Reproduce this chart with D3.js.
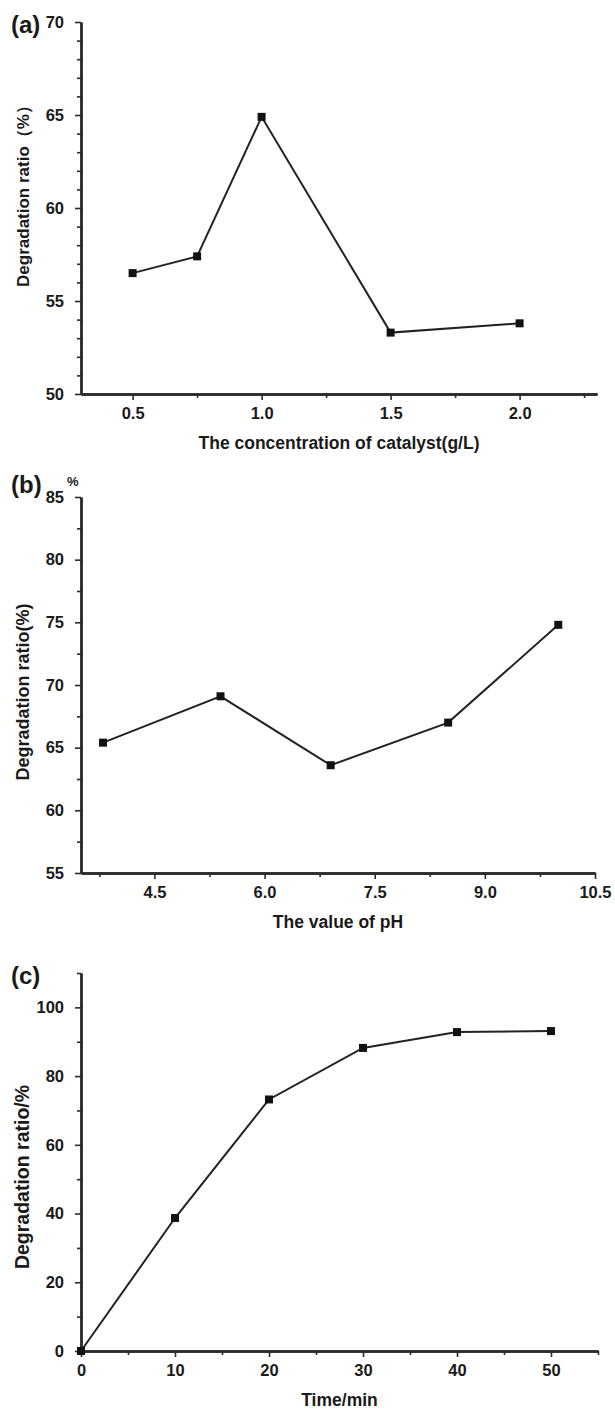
<!DOCTYPE html>
<html lang="en">

<head>
    <meta charset="UTF-8">
    <title>Degradation ratio panels</title>
    <script src="https://d3js.org/d3.v7.min.js"></script>
    <style>
        body { margin: 0; background: #fff; }
        text { font-family: "Liberation Sans", Arial, sans-serif; font-weight: bold; fill: #1a1a1a; }
    </style>
</head>

<body>
    <svg width="615" height="1411"></svg>
    <script>
        // panel (a) - catalyst concentration
        const catalystConc = [0.5, 0.75, 1.0, 1.5, 2.0]
        const catalystRatio = [56.5, 57.4, 64.9, 53.3, 53.8]
        const catalystXTicks = [0.5, 1.0, 1.5, 2.0]
        const catalystXMinor = [0.75, 1.25, 1.75, 2.25]
        const catalystYTicks = [50, 55, 60, 65, 70]

        // panel (b) - pH
        const phValues = [3.8, 5.4, 6.9, 8.5, 10.0]
        const phRatio = [65.4, 69.1, 63.6, 67.0, 74.8]
        const phXTicks = [4.5, 6.0, 7.5, 9.0, 10.5]
        const phXMinor = [3.75, 5.25, 6.75, 8.25, 9.75]
        const phYTicks = [55, 60, 65, 70, 75, 80, 85]

        // panel (c) - time
        const timeMin = [0, 10, 20, 30, 40, 50]
        const timeRatio = [0, 38.7, 73.2, 88.2, 92.8, 93.1]
        const timeXTicks = [0, 10, 20, 30, 40, 50]
        const timeXMinor = [5, 15, 25, 35, 45, 55]
        const timeYTicks = [0, 20, 40, 60, 80, 100]

        let svg = d3.select('svg')

        let panels = [
            {
                tag: "(a)", xs: catalystConc, ys: catalystRatio,
                xDomain: [0.3, 2.3], yDomain: [50, 70],
                xTicks: catalystXTicks, xMinor: catalystXMinor, xFmt: d3.format(".1f"),
                yTicks: catalystYTicks, yMinor: d3.range(50, 71, 1).filter(v => v % 5 != 0),
                top: 22, bottom: 394, left: 81, right: 597,
                xTitle: "The concentration of catalyst(g/L)", yTitle: "Degradation ratio（%）",
                yTitleMid: 192, yTitleSize: 17
            },
            {
                tag: "(b)", xs: phValues, ys: phRatio,
                xDomain: [3.5, 10.5], yDomain: [55, 85],
                xTicks: phXTicks, xMinor: phXMinor, xFmt: d3.format(".1f"),
                yTicks: phYTicks, yMinor: d3.range(57.5, 85, 5),
                top: 497, bottom: 873, left: 81, right: 595,
                xTitle: "The value of pH", yTitle: "Degradation ratio(%)", unit: "%",
                yTitleMid: 692, yTitleSize: 18
            },
            {
                tag: "(c)", xs: timeMin, ys: timeRatio,
                xDomain: [0, 55], yDomain: [0, 110],
                xTicks: timeXTicks, xMinor: timeXMinor, xFmt: d3.format("d"),
                yTicks: timeYTicks, yMinor: [10, 30, 50, 70, 90, 110],
                top: 973, bottom: 1351, left: 81, right: 598,
                xTitle: "Time/min", yTitle: "Degradation ratio/%",
                yTitleMid: 1177, yTitleSize: 19.5
            }
        ]

        panels.forEach(function (p) {
            let x = d3.scaleLinear().domain(p.xDomain).range([p.left, p.right])
            let y = d3.scaleLinear().domain(p.yDomain).range([p.bottom, p.top])
            let g = svg.append("g")

            // minor ticks
            g.append("g")
                .attr("transform", `translate(0,${p.bottom})`)
                .call(d3.axisBottom(x).tickValues(p.xMinor).tickFormat("").tickSize(4).tickSizeOuter(0))
            g.append("g")
                .attr("transform", `translate(${p.left},0)`)
                .call(d3.axisLeft(y).tickValues(p.yMinor).tickFormat("").tickSize(4).tickSizeOuter(0))

            // major ticks + axis lines
            g.append("g")
                .attr("transform", `translate(0,${p.bottom})`)
                .call(d3.axisBottom(x).tickValues(p.xTicks).tickFormat(p.xFmt).tickSize(6).tickPadding(7).tickSizeOuter(0))
            g.append("g")
                .attr("transform", `translate(${p.left},0)`)
                .call(d3.axisLeft(y).tickValues(p.yTicks).tickFormat(d3.format("d")).tickSize(6).tickPadding(11).tickSizeOuter(0))

            g.selectAll(".domain").attr("stroke", "#2a2a2a").attr("stroke-width", 2.4)
            g.selectAll(".tick line").attr("stroke", "#2a2a2a").attr("stroke-width", 1.6)
            g.selectAll(".tick text").style("font-size", "16.5px").attr("fill", "#1a1a1a")

            // data line and markers
            let pts = p.xs.map((v, i) => [v, p.ys[i]])
            g.append("path")
                .datum(pts)
                .attr("fill", "none")
                .attr("stroke", "#222")
                .attr("stroke-width", 2)
                .attr("d", d3.line().x(d => x(d[0])).y(d => y(d[1])))
            g.selectAll(".mk")
                .data(pts)
                .enter()
                .append("rect")
                .attr("x", d => x(d[0]) - 4)
                .attr("y", d => y(d[1]) - 4)
                .attr("width", 8)
                .attr("height", 8)
                .attr("fill", "#111")

            // titles
            g.append("text")
                .attr("x", (p.left + p.right) / 2)
                .attr("y", p.bottom + 55)
                .attr("text-anchor", "middle")
                .style("font-size", "17.5px")
                .text(p.xTitle)
            g.append("text")
                .attr("transform", `translate(29,${p.yTitleMid}) rotate(-90)`)
                .attr("text-anchor", "middle")
                .style("font-size", p.yTitleSize + "px")
                .text(p.yTitle)

            // panel tag
            g.append("text")
                .attr("x", 11)
                .attr("y", p.top + (p.tag == "(b)" ? -4 : 11))
                .style("font-size", "24px")
                .text(p.tag)
            if (p.unit) {
                g.append("text")
                    .attr("x", 67)
                    .attr("y", p.top - 11)
                    .style("font-size", "13px")
                    .text(p.unit)
            }
        })
    </script>
</body>

</html>
